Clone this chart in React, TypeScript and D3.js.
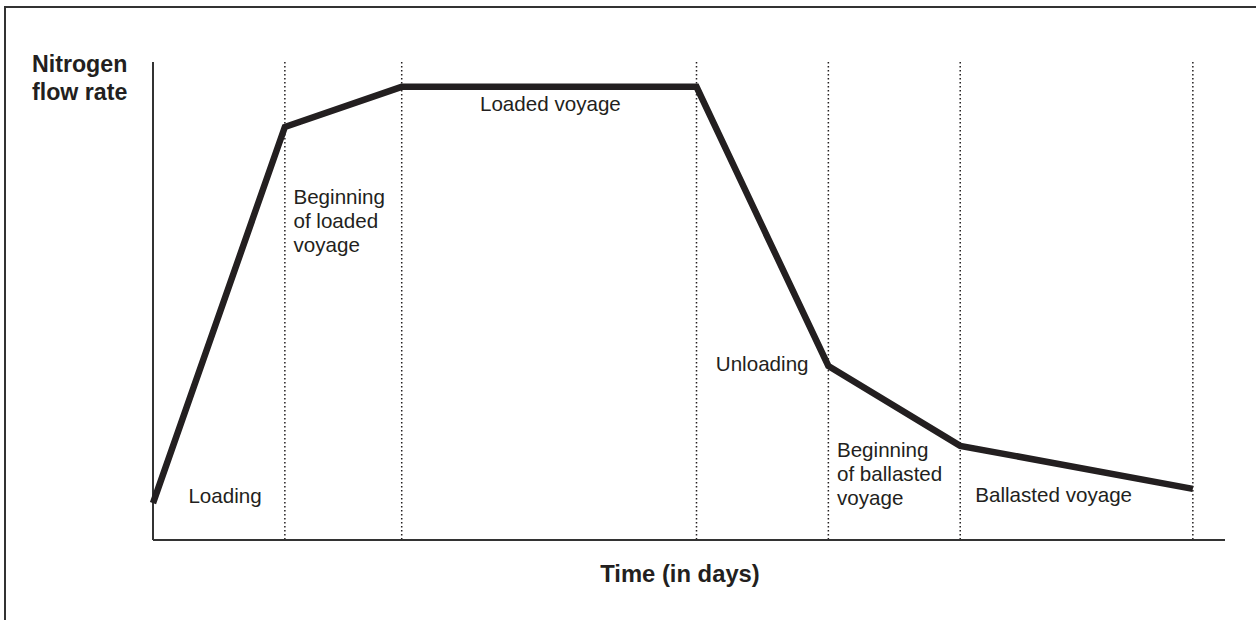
import React from "react";
import * as d3 from "d3";

// time (arbitrary units) and nitrogen flow rate (relative, 0-100)
const times = [0, 12.3, 23.2, 50.7, 63.0, 75.3, 97.0];
const flowRates = [7.7, 86.4, 94.8, 94.8, 36.4, 19.7, 10.7];
const phaseBoundaries = [12.3, 23.2, 50.7, 63.0, 75.3, 97.0];

const phaseLabels = [
    {lines: ["Loading"], t: 3.3, v: 7.7},
    {lines: ["Beginning", "of loaded", "voyage"], t: 13.1, v: 70.3},
    {lines: ["Loaded voyage"], t: 30.5, v: 89.7},
    {lines: ["Unloading"], t: 52.5, v: 35.4},
    {lines: ["Beginning", "of ballasted", "voyage"], t: 63.8, v: 17.4},
    {lines: ["Ballasted voyage"], t: 76.7, v: 7.9},
];

const W = 1256;
const H = 620;
const ink = "#231f20";

const App = () => {
    const x = d3.scaleLinear().domain([0, 100]).range([153, 1225]);
    const y = d3.scaleLinear().domain([0, 100]).range([540, 62]);

    const line = d3
    .line<number>()
    .x((d, i) => x(times[i]))
    .y(d => y(d));

    const font = "'Liberation Sans', Arial, Helvetica, sans-serif";

    return (
        <svg width={W} height={H} style={{position: "absolute", left: 0, top: 0, background: "#fff"}}>
            {/* frame */}
            <path d={`M5,${H + 5} V7 H${W + 5}`} fill="none" stroke="#333" strokeWidth={2}/>

            {/* phase boundaries */}
            {phaseBoundaries.map((t, i) => (
                <line key={i} x1={x(t)} x2={x(t)} y1={y(100)} y2={y(0)}
                      stroke={ink} strokeWidth={1.5} strokeDasharray="1.5,2.5"/>
            ))}

            {/* axes */}
            <line x1={x(0)} x2={x(0)} y1={y(100)} y2={y(0)} stroke="#333" strokeWidth={2}/>
            <line x1={x(0)} x2={x(100)} y1={y(0)} y2={y(0)} stroke="#333" strokeWidth={2}/>

            {/* flow rate */}
            <path d={line(flowRates) || ""} fill="none" stroke={ink} strokeWidth={6.5} strokeLinejoin="miter"/>

            {/* phase labels */}
            {phaseLabels.map((p, i) => (
                <text key={i} x={x(p.t)} y={y(p.v)} fontFamily={font} fontSize={20.6} fill={ink}>
                    {p.lines.map((l, j) => (
                        <tspan key={j} x={x(p.t)} dy={j === 0 ? 0 : 24}>{l}</tspan>
                    ))}
                </text>
            ))}

            {/* axis titles */}
            <text x={32} y={72} fontFamily={font} fontSize={23.2} fontWeight="bold" fill={ink}>
                <tspan x={32}>Nitrogen</tspan>
                <tspan x={32} dy={28}>flow rate</tspan>
            </text>
            <text x={680} y={582} textAnchor="middle" fontFamily={font} fontSize={23.8} fontWeight="bold" fill={ink}>
                Time (in days)
            </text>
        </svg>
    );
};

export default App;
